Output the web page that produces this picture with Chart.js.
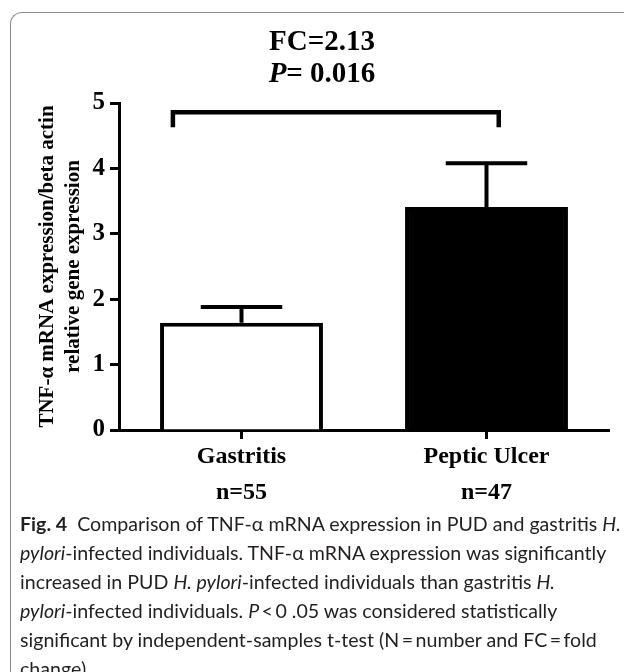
<!DOCTYPE html>
<html>
<head>
<meta charset="utf-8">
<script src="https://cdn.jsdelivr.net/npm/chart.js@4"></script>
<style>
  html, body { margin: 0; padding: 0; background: #fff; }
  body { width: 624px; height: 672px; position: relative; overflow: hidden; }
  #frame {
    position: absolute; left: 10px; top: 12px; width: 700px; height: 700px;
    border-left: 1.5px solid #8a8a8a; border-top: 1.5px solid #8a8a8a;
    border-top-left-radius: 12px;
  }
  #chart { position: absolute; left: 0; top: 0; }
  #caption {
    position: absolute; left: 20px; top: 509px;
    font-family: Lato, "Open Sans", sans-serif; font-size: 19.6px; line-height: 29px;
    color: #231f20; white-space: nowrap;
  }
  #caption b { font-weight: 700; }
</style>
</head>
<body>
<div id="frame"></div>
<canvas id="chart" width="624" height="520"></canvas>
<div id="caption">
  <div><b>Fig. 4</b>&nbsp; Comparison of TNF-α mRNA expression in PUD and gastritis <i>H.</i></div>
  <div><i>pylori</i>-infected individuals. TNF-α mRNA expression was significantly</div>
  <div>increased in PUD <i>H. pylori</i>-infected individuals than gastritis <i>H.</i></div>
  <div><i>pylori</i>-infected individuals. <i>P</i>&thinsp;&lt;&thinsp;0 .05 was considered statistically</div>
  <div>significant by independent-samples t-test (N&thinsp;=&thinsp;number and FC&thinsp;=&thinsp;fold</div>
  <div>change)</div>
</div>
<script>
// valores
const categories = ['Gastritis', 'Peptic Ulcer'];
const sampleSizes = ['n=55', 'n=47'];
const meanValues = [1.64, 3.41];
const semValues = [0.24, 0.67];
const yTicks = [0, 1, 2, 3, 4, 5];
const barColors = ['#ffffff', '#000000'];

const serif = '"Liberation Serif", "Times New Roman", serif';

// barras de error (solo hacia arriba)
const errorBars = {
  id: 'errorBars',
  afterDatasetsDraw(chart) {
    const { ctx, scales: { y } } = chart;
    const meta = chart.getDatasetMeta(0);
    ctx.save();
    ctx.strokeStyle = '#000';
    ctx.lineWidth = 4;
    meta.data.forEach((bar, i) => {
      const top = y.getPixelForValue(meanValues[i] + semValues[i]);
      const half = bar.width / 4;
      ctx.beginPath();
      ctx.moveTo(bar.x, bar.y);
      ctx.lineTo(bar.x, top);
      ctx.moveTo(bar.x - half, top);
      ctx.lineTo(bar.x + half, top);
      ctx.stroke();
    });
    ctx.restore();
  }
};

// corchete de significancia + título
const bracket = {
  id: 'bracket',
  afterDraw(chart) {
    const { ctx, scales: { x, y } } = chart;
    const x1 = x.getPixelForValue(-0.28);
    const x2 = x.getPixelForValue(1.05);
    const yTop = y.getPixelForValue(4.86);
    const yLeg = y.getPixelForValue(4.63);
    ctx.save();
    ctx.strokeStyle = '#000';
    ctx.lineWidth = 4.5;
    ctx.lineJoin = 'miter';
    ctx.beginPath();
    ctx.moveTo(x1, yLeg);
    ctx.lineTo(x1, yTop);
    ctx.lineTo(x2, yTop);
    ctx.lineTo(x2, yLeg);
    ctx.stroke();

    ctx.fillStyle = '#000';
    ctx.textBaseline = 'middle';
    ctx.textAlign = 'center';
    ctx.font = 'bold 29px ' + serif;
    ctx.fillText('FC=2.13', 322, 43);

    ctx.textAlign = 'left';
    const italic = 'italic bold 29px ' + serif;
    const bold = 'bold 29px ' + serif;
    ctx.font = italic;
    const wP = ctx.measureText('P').width;
    ctx.font = bold;
    const wRest = ctx.measureText('= 0.016').width;
    const start = 322 - (wP + wRest) / 2;
    ctx.font = italic;
    ctx.fillText('P', start, 75);
    ctx.font = bold;
    ctx.fillText('= 0.016', start + wP, 75);
    ctx.restore();
  }
};

new Chart(document.getElementById('chart'), {
  type: 'bar',
  data: {
    labels: categories.map((c, i) => [c, sampleSizes[i]]),
    datasets: [{
      data: meanValues,
      backgroundColor: barColors,
      borderColor: '#000',
      borderWidth: 4,
      categoryPercentage: 1,
      barPercentage: 0.665
    }]
  },
  options: {
    responsive: false,
    animation: false,
    devicePixelRatio: 1,
    layout: { padding: { left: 30, top: 103, right: 15, bottom: 0 } },
    plugins: { legend: { display: false }, tooltip: { enabled: false } },
    scales: {
      x: {
        offset: true,
        grid: { offset: false, drawOnChartArea: false, tickLength: 9, tickWidth: 3, tickColor: '#000' },
        border: { color: '#000', width: 3 },
        ticks: { color: '#000', padding: 0, font: { family: serif, size: 24, weight: 'bold', lineHeight: 1.5 } },
        afterFit: s => { s.height = 90; }
      },
      y: {
        min: 0,
        max: 5,
        afterBuildTicks: s => { s.ticks = yTicks.map(v => ({ value: v })); },
        grid: { drawOnChartArea: false, tickLength: 9, tickWidth: 3, tickColor: '#000' },
        border: { color: '#000', width: 3 },
        ticks: { color: '#000', padding: 5, font: { family: serif, size: 25, weight: 'bold' } },
        title: {
          display: true,
          text: ['TNF-α mRNA expression/beta actin', 'relative gene expression'],
          color: '#000',
          font: { family: serif, size: 21, weight: 'bold', lineHeight: 1.25 }
        },
        afterFit: s => { s.width = 89; }
      }
    }
  },
  plugins: [errorBars, bracket]
});
</script>
</body>
</html>
